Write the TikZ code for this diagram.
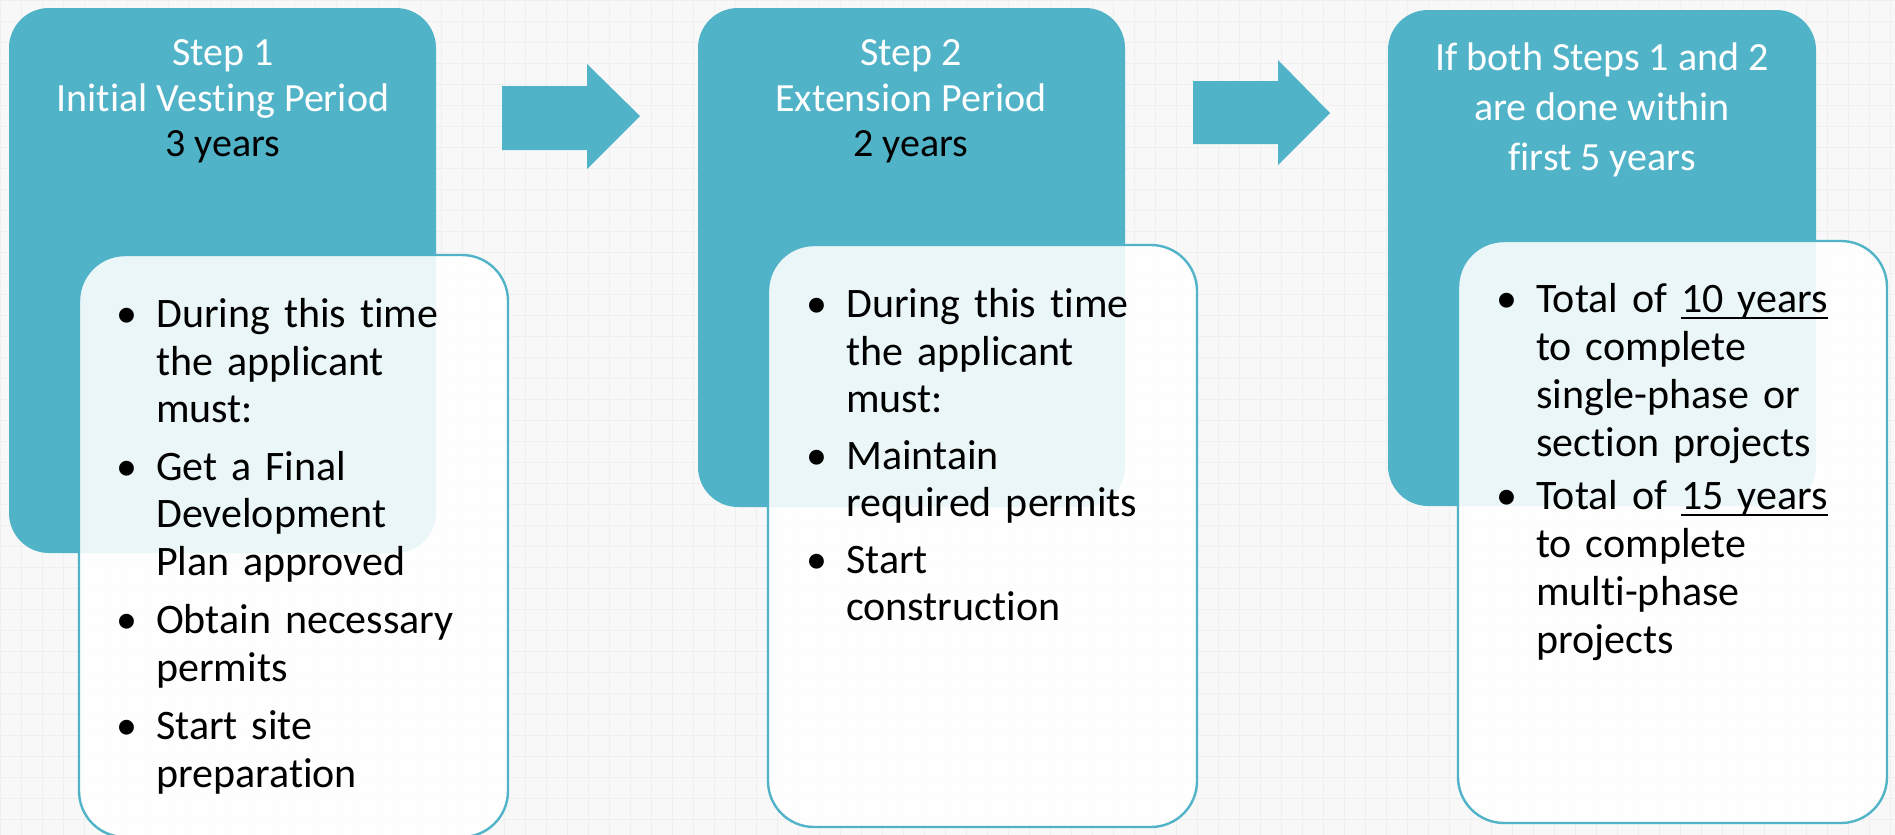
\documentclass[tikz,border=0pt]{standalone}
\usepackage{fontspec}
\setmainfont{Carlito}[Ligatures=NoCommon]
\definecolor{tealc}{RGB}{80,179,200}
\definecolor{bgc}{RGB}{248,248,248}
\definecolor{gridc}{RGB}{239,239,239}
\newcommand{\bitem}[1]{\par\hangindent=40pt\hangafter=1\noindent\makebox[40pt][l]{\textbullet}#1\par}
\newcommand{\nl}{\hfil\break}
\newcommand{\ulyr}[1]{\setbox0\hbox{#1}\rlap{\rule[-7pt]{\wd0}{2.4pt}}\box0}
\begin{document}
\begin{tikzpicture}[x=1pt,y=-1pt,
  tealbox/.style={fill=tealc, rounded corners=40pt},
  whitebox/.style={draw=tealc, line width=2.4pt, fill=white, fill opacity=0.89, rounded corners=46pt},
  titletext/.style={anchor=base, inner sep=0pt, text=white, font=\fontsize{40}{45}\selectfont},
  bodytext/.style={anchor=base west, inner sep=0pt, text width=440pt, font=\fontsize{42}{47.5}\selectfont},
  blockarrow/.style={fill=tealc}]
\useasboundingbox (0,0) rectangle (1895,835);
\clip (0,0) rectangle (1895,835);
\fill[bgc] (0,0) rectangle (1895,835);
\foreach \x in {0,21,...,1895} \draw[gridc,line width=0.7pt] (\x,0) -- (\x,835);
\foreach \y in {0,21,...,835} \draw[gridc,line width=0.7pt] (0,\y) -- (1895,\y);

% teal boxes
\path[tealbox] (9,8) rectangle (436,553);
\path[tealbox] (698,8) rectangle (1125,507);
\path[tealbox] (1388,10) rectangle (1816,506);

% block arrows
\path[blockarrow] (502,86) -- (587,86) -- (587,64) -- (640,116) -- (587,169) -- (587,150) -- (502,150) -- cycle;
\path[blockarrow] (1193,81) -- (1278,81) -- (1278,60) -- (1330,113) -- (1278,165) -- (1278,144) -- (1193,144) -- cycle;

% white boxes
\path[whitebox] (79,255) rectangle (508,837);
\path[whitebox] (768,245) rectangle (1197,827);
\path[whitebox] (1458,241) rectangle (1887,823);

% titles
\node[titletext] (t1a) at (223,65) {Step 1};
\node[titletext] (t1b) at (223,111) {Initial Vesting Period};
\node[titletext, text=black] (t1c) at (223,156) {3 years};
\node[titletext] (t2a) at (911,65) {Step 2};
\node[titletext] (t2b) at (911,111) {Extension Period};
\node[titletext, text=black] (t2c) at (911,156) {2 years};
\node[titletext] (t3a) at (1602,70) {If both Steps 1 and 2};
\node[titletext] (t3b) at (1602,120) {are done within};
\node[titletext] (t3c) at (1602,170) {first 5 years};

% bodies
\node[bodytext] (b1) at (116,280) {\parindent=0pt\parskip=0pt
\bitem{During this time\nl the applicant\nl must:}\vskip 10pt
\bitem{Get a Final\nl Development\nl Plan approved}\vskip 11pt
\bitem{Obtain necessary\nl permits}\vskip 11pt
\bitem{Start site\nl preparation}};

\node[bodytext] (b2) at (806,270) {\parindent=0pt\parskip=0pt
\bitem{During this time\nl the applicant\nl must:}\vskip 9pt
\bitem{Maintain\nl required permits}\vskip 9pt
\bitem{Start\nl construction}};

\node[bodytext, font=\fontsize{42}{48}\selectfont] (b3) at (1496,264) {\parindent=0pt\parskip=0pt
\bitem{Total of \ulyr{10 years}\nl to complete\nl single-phase or\nl section projects}\vskip 5pt
\bitem{Total of \ulyr{15 years}\nl to complete\nl multi-phase\nl projects}};
\end{tikzpicture}
\end{document}
